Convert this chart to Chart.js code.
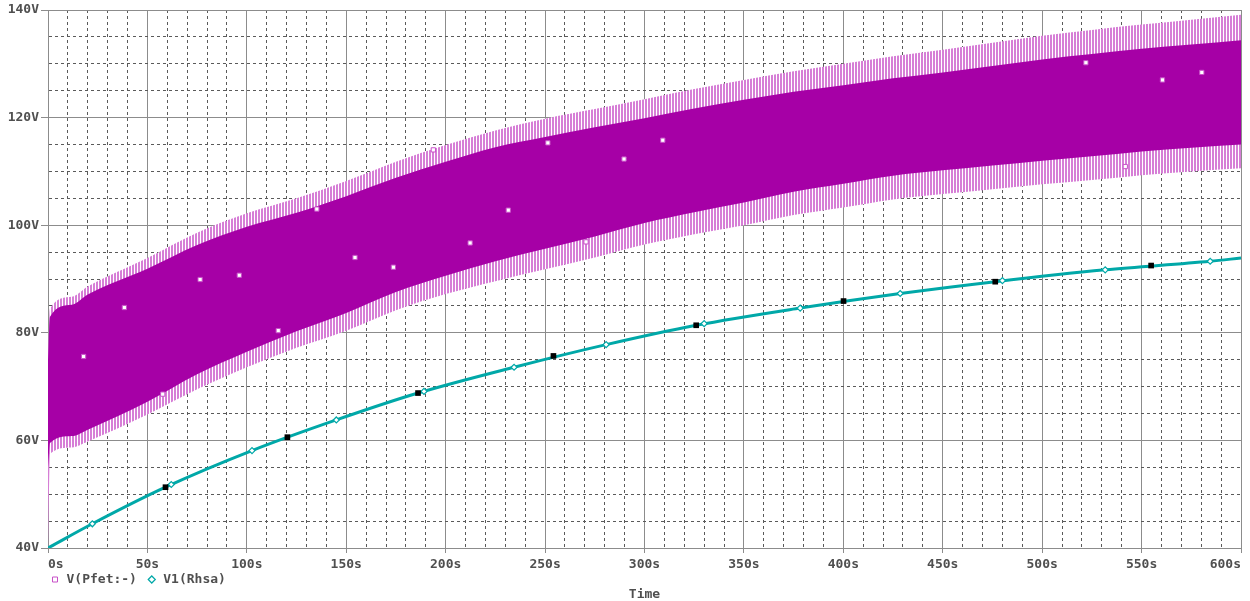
<!DOCTYPE html>
<html>
<head>
<meta charset="utf-8">
<script src="https://cdn.jsdelivr.net/npm/chart.js@4.4.1/dist/chart.umd.min.js"></script>
<style>
  html, body { margin: 0; padding: 0; background: #fff; }
  #wrap { width: 1250px; height: 601px; }
</style>
</head>
<body>
<div id="wrap"><canvas id="plot"></canvas></div>
<script>
// V(Pfet:-): fast ripple, kept as its envelopes (outer edge and dark core)
const bandTime = [0, 1, 12, 20, 50, 75, 100, 125, 150, 175, 200, 225, 250, 275, 300, 325, 350, 375, 400, 425, 450, 475, 500, 525, 550, 575, 600];
const bandTop = [76, 84.5, 86.7, 88.6, 93.9, 98.6, 102.2, 105.0, 108.2, 111.8, 114.9, 117.6, 119.8, 121.6, 123.4, 125.3, 127.0, 128.6, 130.0, 131.4, 132.6, 133.9, 135.2, 136.3, 137.3, 138.2, 139.1];
const bandBottom = [40, 57.5, 58.7, 59.8, 64.8, 69.5, 73.6, 77.2, 80.4, 84.2, 87.2, 89.6, 91.8, 94.0, 96.4, 98.3, 100.0, 101.9, 103.3, 104.8, 105.8, 106.7, 107.6, 108.4, 109.3, 110.0, 110.6];
const coreTop = [75, 83, 85.2, 87.1, 91.9, 96.3, 99.7, 102.3, 105.4, 108.8, 111.8, 114.5, 116.4, 118.2, 119.9, 121.7, 123.3, 124.8, 126.0, 127.3, 128.4, 129.6, 130.8, 131.8, 132.8, 133.6, 134.4];
const coreBottom = [55, 59.5, 60.8, 62.0, 67.2, 72.3, 76.5, 80.3, 83.7, 87.6, 90.6, 93.3, 95.6, 97.9, 100.4, 102.4, 104.2, 106.2, 107.7, 109.2, 110.2, 111.1, 112.0, 112.8, 113.7, 114.4, 115.0];

// V(Pfet:-) trace markers
const pfetMarkTime = [17.9, 38.4, 57.7, 76.5, 96.2, 115.8, 135.2, 154.4, 173.7, 193.8, 212.3, 231.5, 251.4, 270.6, 289.7, 309.2, 522, 541.8, 560.5, 580.3];
const pfetMarkV = [75.6, 84.7, 68.6, 89.9, 90.7, 80.4, 103.0, 94.0, 92.2, 114.0, 96.7, 102.8, 115.3, 96.9, 112.3, 115.8, 130.2, 110.9, 127.0, 128.4];

// V1(Rhsa)
const rhsaTime = [0, 22.3, 59.1, 102.6, 145.0, 186.1, 234.4, 280.7, 326.0, 378.3, 428.6, 476.4, 531.7, 584.5, 600];
const rhsaV = [40, 44.5, 51.3, 58.1, 63.8, 68.8, 73.6, 77.8, 81.4, 84.6, 87.3, 89.5, 91.7, 93.3, 93.9];
const rhsaMarkTime = [22.3, 62.0, 102.6, 145.0, 189.1, 234.4, 280.7, 330.0, 378.3, 428.6, 480.0, 531.7, 584.5];
const rhsaMarkV = [44.5, 51.8, 58.1, 63.8, 69.1, 73.6, 77.8, 81.7, 84.6, 87.3, 89.7, 91.7, 93.3];
const cursorTime = [59.1, 120.4, 186.1, 254.2, 326.0, 400.1, 476.4, 554.8];
const cursorV = [51.3, 60.6, 68.8, 75.7, 81.4, 85.9, 89.5, 92.5];

const X_MIN = 0, X_MAX = 600, X_STEP = 10, X_LABEL_STEP = 50;
const Y_MIN = 40, Y_MAX = 140, Y_STEP = 5, Y_LABEL_STEP = 20;

const TXT = '#4f4f4f';
const MONO = "'DejaVu Sans Mono', 'Liberation Mono', monospace";
const GRID_MAJOR = '#8c8c8c';
const GRID_MINOR = '#5a5a5a';
const PURPLE = '#a600a6';
const TEAL = '#00a8a8';

const pts = (xs, ys) => xs.map((x, i) => ({ x, y: ys[i] }));

const canvas = document.getElementById('plot');
const ctx = canvas.getContext('2d');

// pink/white vertical stripes for the light part of the ripple
function stripePattern() {
    const c = document.createElement('canvas');
    c.width = 3; c.height = 1;
    const g = c.getContext('2d');
    g.fillStyle = '#ffffff'; g.fillRect(0, 0, 3, 1);
    g.fillStyle = '#d67ed6'; g.fillRect(0, 0, 2, 1);
    return ctx.createPattern(c, 'repeat');
}

const font = { family: MONO, size: 13, weight: 'bold' };
const isMajor = (c, step) => c.tick && c.tick.value % step === 0;
const band = { borderWidth: 0, pointRadius: 0, cubicInterpolationMode: 'monotone' };

new Chart(ctx, {
    type: 'line',
    data: {
        datasets: [
            { data: pts(cursorTime, cursorV), showLine: false, pointStyle: 'rect', pointRadius: 4,
              pointBackgroundColor: '#000', pointBorderWidth: 0 },
            { label: 'V1(Rhsa)', data: pts(rhsaMarkTime, rhsaMarkV), showLine: false, pointStyle: 'rectRot', pointRadius: 3,
              pointBackgroundColor: '#fff', pointBorderColor: TEAL, pointBorderWidth: 1.2 },
            { data: pts(rhsaTime, rhsaV), borderColor: TEAL, borderWidth: 3, pointRadius: 0, cubicInterpolationMode: 'monotone' },
            { label: 'V(Pfet:-)', data: pts(pfetMarkTime, pfetMarkV), showLine: false, pointStyle: 'rect', pointRadius: 3,
              pointBackgroundColor: '#fff', pointBorderColor: '#c850c8', pointBorderWidth: 1 },
            { ...band, data: pts(bandTime, coreTop), fill: '+1', backgroundColor: PURPLE },
            { ...band, data: pts(bandTime, coreBottom) },
            { ...band, data: pts(bandTime, bandTop), fill: '+1', backgroundColor: stripePattern() },
            { ...band, data: pts(bandTime, bandBottom) }
        ]
    },
    options: {
        responsive: true,
        maintainAspectRatio: false,
        animation: false,
        events: [],
        layout: { padding: { top: 10, right: 9, bottom: 0, left: 0 } },
        scales: {
            x: {
                type: 'linear', min: X_MIN, max: X_MAX,
                ticks: {
                    stepSize: X_STEP, autoSkip: false, maxRotation: 0, align: 'inner', padding: 4,
                    color: TXT, font,
                    callback: v => v % X_LABEL_STEP === 0 ? v + 's' : ''
                },
                grid: {
                    color: c => isMajor(c, X_LABEL_STEP) ? GRID_MAJOR : GRID_MINOR,
                    tickLength: 5,
                    tickColor: c => isMajor(c, X_LABEL_STEP) ? GRID_MAJOR : 'rgba(0,0,0,0)'
                },
                border: { color: GRID_MAJOR, dash: c => (c.tick && !isMajor(c, X_LABEL_STEP)) ? [3, 3] : [] },
                afterFit: s => { s.height = 23; s.paddingLeft = 0; s.paddingRight = 0; }
            },
            y: {
                type: 'linear', min: Y_MIN, max: Y_MAX,
                ticks: {
                    stepSize: Y_STEP, autoSkip: false, padding: 2,
                    color: TXT, font,
                    callback: v => v % Y_LABEL_STEP === 0 ? v + 'V' : ''
                },
                grid: {
                    color: c => isMajor(c, Y_LABEL_STEP) ? GRID_MAJOR : GRID_MINOR,
                    tickLength: 7,
                    tickColor: c => isMajor(c, Y_LABEL_STEP) ? GRID_MAJOR : 'rgba(0,0,0,0)'
                },
                border: { color: GRID_MAJOR, dash: c => (c.tick && !isMajor(c, Y_LABEL_STEP)) ? [3, 3] : [] },
                afterFit: s => { s.width = 48; }
            }
        },
        plugins: {
            tooltip: { enabled: false },
            legend: {
                position: 'bottom', align: 'start', fullSize: false, maxHeight: 17,
                labels: {
                    usePointStyle: true, boxWidth: 10, boxHeight: 5, padding: 2,
                    color: TXT, font,
                    // one extra monospace cell after the first entry, as in the original
                    generateLabels: chart => Chart.defaults.plugins.legend.labels.generateLabels(chart)
                        .filter(item => item.text)
                        .sort((a, b) => b.datasetIndex - a.datasetIndex)
                        .map((item, i) => i === 0 ? { ...item, text: item.text + ' ' } : item)
                }
            },
            title: {
                display: true, text: 'Time', position: 'bottom', fullSize: false, align: 'center',
                color: TXT, font: { family: MONO, size: 13, weight: 'bold', lineHeight: 1 },
                padding: { top: 0, bottom: 0 }
            }
        }
    }
});
</script>
</body>
</html>
